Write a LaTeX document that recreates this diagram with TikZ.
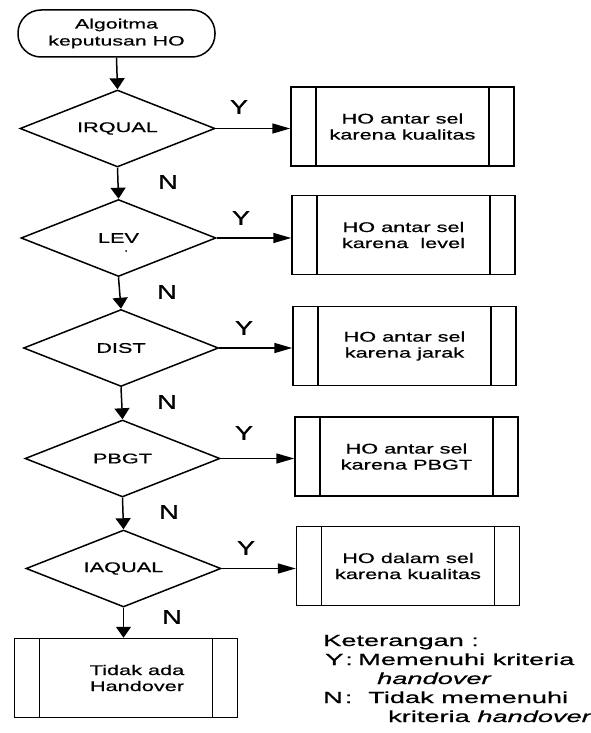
\documentclass[tikz,border=0pt]{standalone}
\usepackage{fontspec}
\setmainfont{Liberation Sans}
\newfontfamily\boxfont{Liberation Sans}[FakeStretch=1.55,FakeBold=0.6]
\newfontfamily\termfont{Liberation Sans}[FakeStretch=1.58,FakeBold=0.6]
\newfontfamily\yesnofont{Liberation Sans}[FakeStretch=1.35,FakeBold=0.8]
\newfontfamily\legendfont{Liberation Sans}[FakeStretch=1.7,FakeBold=0.7]
\usetikzlibrary{shapes.geometric,arrows.meta}

\tikzset{
  outline/.style={draw, line width=1.5pt, inner sep=0pt},
  terminal/.style={outline, rounded corners=23pt, minimum width=197pt,
    minimum height=47pt, align=center,
    font=\termfont\fontsize{13.5}{17}\selectfont},
  decision/.style={outline, diamond, shape aspect=2.53, minimum width=195pt,
    minimum height=77pt, font=\boxfont\fontsize{14}{16}\selectfont},
  process/.style={outline, rectangle, minimum width=223pt, minimum height=79pt,
    align=center, font=\boxfont\fontsize{14}{16}\selectfont,
    path picture={
      \draw[line width=1.5pt]
        ([xshift=25pt]path picture bounding box.north west) --
        ([xshift=25pt]path picture bounding box.south west);
      \draw[line width=1.5pt]
        ([xshift=-25pt]path picture bounding box.north east) --
        ([xshift=-25pt]path picture bounding box.south east);
    }},
  boxtext/.style={align=center, inner sep=0pt,
    font=\boxfont\fontsize{14}{16}\selectfont},
  yn/.style={inner sep=0pt, font=\yesnofont\fontsize{20}{22}\selectfont},
  legend/.style={anchor=base west, inner sep=0pt,
    font=\legendfont\fontsize{16}{19}\selectfont},
  varrow/.style={line width=1.5pt, -{Triangle[length=11pt,width=15pt]}},
  harrow/.style={line width=1.5pt, -{Triangle[length=18pt,width=10pt]}},
}

\begin{document}
\begin{tikzpicture}[x=1pt, y=-1pt]
  \fill[white] (0,0) rectangle (591,733);
  \useasboundingbox (0,0) rectangle (591,733);

  % start
  \node[terminal] (start) at (116.5,33.5) {Algoitma\\keputusan HO};

  % decisions
  \node[decision] (d1) at (117.5,128.5) {IRQUAL};
  \node[decision] (d2) at (118.5,238) {LEV};
  \node[decision] (d3) at (121,348) {DIST};
  \node[decision] (d4) at (122.5,458.5) {PBGT};
  \node[decision] (d5) at (123.5,568.5) {IAQUAL};
  \fill (126,251) circle (1pt);

  % handover actions
  \node[process] (b1) at (402.5,126.5) {HO antar sel\\karena kualitas};
  \node[process] (b2) at (403.5,235) {HO antar sel\\karena \ level};
  \node[process] (b3) at (404.5,346) {HO antar sel\\karena jarak};
  \node[process] (b4) at (406.5,456.5) {HO antar sel\\karena PBGT};
  \node[process] (b5) at (408,566) {HO dalam sel\\karena kualitas};

  % no handover
  \node[process] (fin) at (126,678) {};
  \node[boxtext] (finText) at (137,678) {Tidak ada\\Handover};

  % vertical flow
  \draw[varrow] (start.south) -- (d1.north);
  \draw[varrow] (d1.south) -- (d2.north);
  \draw[varrow] (d2.south) -- (d3.north);
  \draw[varrow] (d3.south) -- (d4.north);
  \draw[varrow] (d4.south) -- (d5.north);
  \draw[varrow] (d5.south) -- (d5.south |- fin.north);

  % yes branches
  \draw[harrow] (d1.east) -- (d1.east -| b1.west);
  \draw[harrow] (d2.east) -- (d2.east -| b2.west);
  \draw[harrow] (d3.east) -- (d3.east -| b3.west);
  \draw[harrow] (d4.east) -- (d4.east -| b4.west);
  \draw[harrow] (d5.east) -- (d5.east -| b5.west);

  % Y / N labels
  \node[yn] (y1) at (239,107) {Y};
  \node[yn] (y2) at (241,218) {Y};
  \node[yn] (y3) at (244,328) {Y};
  \node[yn] (y4) at (244,433) {Y};
  \node[yn] (y5) at (246,548) {Y};
  \node[yn] (n1) at (168,182) {N};
  \node[yn] (n2) at (167,292) {N};
  \node[yn] (n3) at (167,402) {N};
  \node[yn] (n4) at (169,512) {N};
  \node[yn] (n5) at (172,617) {N};

  % legend
  \node[legend] (lgHead) at (323,646) {Keterangan :};
  \node[legend] (lgYkey) at (325,665) {Y\hspace{2pt}:};
  \node[legend] (lgYdesc) at (358,665) {Memenuhi kriteria};
  \node[legend] (lgYmore) at (377,684) {\itshape handover};
  \node[legend] (lgNkey) at (323,703) {N\hspace{2pt}:};
  \node[legend] (lgNdesc) at (368,703) {Tidak memenuhi};
  \node[legend] (lgNmore) at (388,722) {kriteria \textit{handover}};
\end{tikzpicture}
\end{document}
